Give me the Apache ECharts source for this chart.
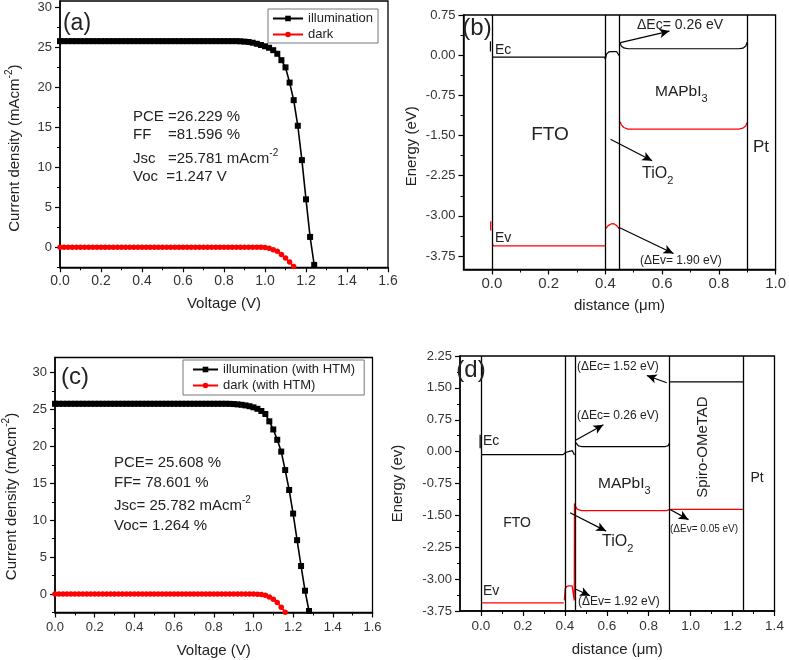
<!DOCTYPE html>
<html><head><meta charset="utf-8">
<script src="https://cdn.jsdelivr.net/npm/echarts@6/dist/echarts.min.js"></script>
<style>html,body{margin:0;padding:0;background:#fff}#c{width:789px;height:660px}</style>
</head><body><div id="c"></div>
<script>
// ---------- DATA ----------
const aVoltage = [0.00,0.02,0.04,0.06,0.08,0.10,0.12,0.14,0.16,0.18,0.20,0.22,0.24,0.26,0.28,0.30,0.32,0.34,0.36,0.38,0.40,0.42,0.44,0.46,0.48,0.50,0.52,0.54,0.56,0.58,0.60,0.62,0.64,0.66,0.68,0.70,0.72,0.74,0.76,0.78,0.80,0.82,0.84,0.86,0.88,0.90,0.92,0.94,0.96,0.98,1.00,1.02,1.04,1.06,1.08,1.10,1.12,1.14,1.16,1.18,1.20,1.22,1.24,1.26];
const aIllum = [25.78,25.78,25.78,25.78,25.78,25.78,25.78,25.78,25.78,25.78,25.78,25.78,25.78,25.78,25.78,25.78,25.78,25.78,25.78,25.78,25.78,25.78,25.78,25.78,25.78,25.78,25.78,25.78,25.78,25.78,25.78,25.78,25.78,25.78,25.78,25.78,25.78,25.78,25.78,25.78,25.78,25.78,25.78,25.78,25.76,25.72,25.67,25.58,25.45,25.30,25.14,24.95,24.65,24.20,23.40,22.50,20.60,18.40,15.20,10.90,6.00,1.30,-2.20,-6.50];
const aDark = [0,0,0,0,0,0,0,0,0,0,0,0,0,0,0,0,0,0,0,0,0,0,0,0,0,0,0,0,0,0,0,0,0,0,0,0,0,0,0,0,0,0,0,0,0,0,0,0,0,0,-0.03,-0.12,-0.30,-0.50,-0.90,-1.35,-1.85,-2.40,-3.10];

const cVoltage = [0.00,0.02,0.04,0.06,0.08,0.10,0.12,0.14,0.16,0.18,0.20,0.22,0.24,0.26,0.28,0.30,0.32,0.34,0.36,0.38,0.40,0.42,0.44,0.46,0.48,0.50,0.52,0.54,0.56,0.58,0.60,0.62,0.64,0.66,0.68,0.70,0.72,0.74,0.76,0.78,0.80,0.82,0.84,0.86,0.88,0.90,0.92,0.94,0.96,0.98,1.00,1.02,1.04,1.06,1.08,1.10,1.12,1.14,1.16,1.18,1.20,1.22,1.24,1.26,1.28,1.30];
const cIllum = [25.78,25.78,25.78,25.78,25.78,25.78,25.78,25.78,25.78,25.78,25.78,25.78,25.78,25.78,25.78,25.78,25.78,25.78,25.78,25.78,25.78,25.78,25.78,25.78,25.78,25.78,25.78,25.78,25.78,25.78,25.78,25.78,25.78,25.78,25.78,25.78,25.78,25.78,25.78,25.78,25.78,25.78,25.78,25.78,25.77,25.74,25.70,25.64,25.56,25.45,25.30,25.10,24.80,24.40,23.40,22.30,20.90,19.30,16.80,14.10,10.90,7.30,3.80,0.45,-2.30,-6.00];
const cDark = [0,0,0,0,0,0,0,0,0,0,0,0,0,0,0,0,0,0,0,0,0,0,0,0,0,0,0,0,0,0,0,0,0,0,0,0,0,0,0,0,0,0,0,0,0,0,0,0,0,0,-0.01,-0.02,-0.05,-0.15,-0.40,-0.70,-1.15,-1.80,-2.45,-3.30];

// band diagram (b): [distance, energy] segments
const bEcSegs = [
  [[-0.005,0.26],[-0.005,0.07]],
  [[0.002,-0.035],[0.398,-0.035],[0.400,-0.08],[0.404,0.02],[0.412,0.06],[0.420,0.065],[0.440,0.065],[0.446,0.04],[0.449,-0.01]],
  [[0.452,0.24],[0.456,0.17],[0.465,0.135],[0.480,0.12],[0.870,0.12],[0.885,0.13],[0.895,0.17],[0.899,0.24]]
];
const bEvSegs = [
  [[-0.004,-3.10],[-0.004,-3.27]],
  [[0.002,-3.52],[0.005,-3.56],[0.400,-3.56]],
  [[0.400,-3.24],[0.410,-3.18],[0.420,-3.15],[0.430,-3.145],[0.440,-3.18],[0.449,-3.24]],
  [[0.452,-1.24],[0.456,-1.30],[0.465,-1.35],[0.480,-1.38],[0.870,-1.38],[0.885,-1.36],[0.895,-1.32],[0.899,-1.26]]
];
const bLayers = [0, 0.4, 0.45, 0.9];
const bArrows = [
  [[0.453,0.235],[0.626,0.45]],
  [[0.418,-1.57],[0.565,-1.97]],
  [[0.447,-3.21],[0.640,-3.70]]
];

// band diagram (d)
const dEcSegs = [
  [[-0.004,0.40],[-0.004,0.08]],
  [[0.003,-0.07],[0.392,-0.07],[0.396,-0.11],[0.403,-0.02],[0.412,0.025],[0.435,0.025],[0.442,0.0],[0.446,-0.08]],
  [[0.452,0.21],[0.456,0.17],[0.465,0.135],[0.480,0.12],[0.880,0.12],[0.893,0.14],[0.899,0.20]],
  [[0.902,1.64],[1.250,1.64]]
];
const dEvSegs = [
  [[0.003,-3.56],[0.395,-3.56]],
  [[0.398,-3.50],[0.402,-3.22],[0.410,-3.17],[0.420,-3.16],[0.435,-3.16],[0.442,-3.20],[0.445,-3.50],[0.446,-1.22],[0.452,-1.30],[0.460,-1.36],[0.480,-1.39],[0.885,-1.39],[0.895,-1.37],[0.900,-1.33],[0.905,-1.36],[1.250,-1.36]]
];
const dLayers = [0, 0.395, 0.45, 0.9, 1.25];
const dArrows = [
  [[0.886,1.62],[0.791,1.79]],
  [[0.449,0.26],[0.584,0.63]],
  [[0.902,-1.36],[0.990,-1.60]],
  [[0.425,-1.44],[0.597,-1.87]],
  [[0.453,-3.24],[0.520,-3.39]]
];

// tick values
const jvMajor = [0,5,10,15,20,25,30];
const jvMinor = [-2.5,2.5,7.5,12.5,17.5,22.5,27.5];
const bXMajor = [0,0.2,0.4,0.6,0.8,1.0];
const bXMinor = [0.1,0.3,0.5,0.7,0.9];
const bYMajor = [0.75,0,-0.75,-1.5,-2.25,-3,-3.75];
const bYMinor = [0.375,-0.375,-1.125,-1.875,-2.625,-3.375];
const dXMajor = [0,0.2,0.4,0.6,0.8,1.0,1.2,1.4];
const dXMinor = [0.1,0.3,0.5,0.7,0.9,1.1,1.3];

// ---------- CHART ----------
const FONT = '"Liberation Sans", Arial, sans-serif';
const chart = echarts.init(document.getElementById('c'), null, {renderer:'canvas'});
const zip = (xs, ys) => ys.map((y, i) => [xs[i], y]);

const AL = {onZero:false, lineStyle:{color:'#000', width:1.5}};
const TK = {length:5, lineStyle:{color:'#000', width:1.2}};
const mTK = (vals) => ({show:true, length:3, customValues:vals, lineStyle:{color:'#000', width:1}});

function mainAxis(o) {
  return Object.assign({
    type:'value', splitLine:{show:false}, axisLine:AL,
    nameLocation:'middle',
    nameTextStyle:{fontSize:15, color:'#222', fontFamily:FONT},
  }, o);
}
function minorAxis(o) {
  return Object.assign({
    type:'value', splitLine:{show:false}, axisLine:{show:false, onZero:false},
    axisLabel:{show:false},
  }, o);
}
const lbl = (size, dec, extra) => Object.assign({fontSize:size, color:'#333', fontFamily:FONT, formatter: v => Number(v).toFixed(dec), showMinLabel:true, showMaxLabel:true}, extra||{});

const xAxis = [
  // 0: (a)
  mainAxis({gridIndex:0, min:0, max:1.6, interval:0.2, axisTick:TK,
    minorTick:{show:true, splitNumber:2, length:3, lineStyle:{color:'#000'}},
    axisLabel:lbl(14,1,{margin:7}), name:'Voltage (V)', nameGap:29}),
  // 1: (b) main
  mainAxis({gridIndex:1, min:-0.1, max:1.0, axisTick:Object.assign({customValues:bXMajor}, TK),
    axisLabel:lbl(15,1,{margin:7, customValues:bXMajor}), name:'distance (\u03bcm)', nameGap:29}),
  // 2: (b) minor
  minorAxis({gridIndex:1, position:'bottom', min:-0.1, max:1.0, axisTick:mTK(bXMinor)}),
  // 3: (c)
  mainAxis({gridIndex:2, min:0, max:1.6, interval:0.2, axisTick:TK,
    minorTick:{show:true, splitNumber:2, length:3, lineStyle:{color:'#000'}},
    axisLabel:lbl(13,1,{margin:8}), name:'Voltage (V)', nameGap:31}),
  // 4: (d) main
  mainAxis({gridIndex:3, min:-0.1, max:1.4, axisTick:Object.assign({customValues:dXMajor}, TK),
    axisLabel:lbl(13.5,1,{margin:8, customValues:dXMajor}), name:'distance (\u03bcm)', nameGap:31}),
  // 5: (d) minor
  minorAxis({gridIndex:3, position:'bottom', min:-0.1, max:1.4, axisTick:mTK(dXMinor)})
];

const supRich = {sup:{fontSize:10, verticalAlign:'top', lineHeight:10, fontFamily:FONT, color:'#222'}};
const yAxis = [
  // 0: (a) main
  mainAxis({gridIndex:0, min:-2.5, max:30.8, axisTick:Object.assign({customValues:jvMajor}, TK),
    axisLabel:lbl(13,0,{margin:8, customValues:jvMajor}),
    name:'Current density (mAcm{sup|-2})', nameGap:34,
    nameTextStyle:{fontSize:15, color:'#222', fontFamily:FONT, lineHeight:22, padding:[0,28,0,0], rich:supRich}}),
  // 1: (a) minor
  minorAxis({gridIndex:0, position:'left', min:-2.5, max:30.8, axisTick:mTK(jvMinor)}),
  // 2: (b) main
  mainAxis({gridIndex:1, min:-4, max:0.75, axisTick:Object.assign({customValues:bYMajor}, TK),
    axisLabel:lbl(13,2,{margin:8, customValues:bYMajor}),
    name:'Energy (eV)', nameGap:44,
    nameTextStyle:{fontSize:15, color:'#222', fontFamily:FONT, padding:[0,8,0,0]}}),
  // 3: (b) minor
  minorAxis({gridIndex:1, position:'left', min:-4, max:0.75, axisTick:mTK(bYMinor)}),
  // 4: (c) main
  mainAxis({gridIndex:2, min:-2.5, max:32.05, axisTick:Object.assign({customValues:jvMajor}, TK),
    axisLabel:lbl(13,0,{margin:8, customValues:jvMajor}),
    name:'Current density (mAcm{sup|-2})', nameGap:32,
    nameTextStyle:{fontSize:15, color:'#222', fontFamily:FONT, lineHeight:22, padding:[0,23,0,0], rich:supRich}}),
  // 5: (c) minor
  minorAxis({gridIndex:2, position:'left', min:-2.5, max:32.05, axisTick:mTK(jvMinor)}),
  // 6: (d)
  mainAxis({gridIndex:3, min:-3.75, max:2.25, interval:0.75, axisTick:TK,
    minorTick:{show:true, splitNumber:2, length:3, lineStyle:{color:'#000'}},
    axisLabel:lbl(13,2,{margin:8}), name:'Energy (ev)', nameGap:55})
];

const gridBox = {show:true, borderColor:'#000', borderWidth:1.3, containLabel:false};
const grid = [
  Object.assign({left:60, top:1, width:328, height:266.3}, gridBox),
  Object.assign({left:463.5, top:15, width:314, height:254.5}, gridBox),
  Object.assign({left:55, top:357.5, width:317.5, height:255}, gridBox),
  Object.assign({left:460, top:356, width:314.5, height:255}, gridBox)
];

const series = [];
function jv(name, xi, yi, xs, ys, sym, size, color) {
  series.push({name, type:'line', xAxisIndex:xi, yAxisIndex:yi, data:zip(xs, ys),
    symbol:sym, symbolSize:size, showSymbol:true, clip:true,
    itemStyle:{color}, lineStyle:{color, width:1.6}, z:3});
}
jv('illumination', 0, 0, aVoltage, aIllum, 'rect', 6, '#000');
jv('dark', 0, 0, aVoltage, aDark, 'circle', 5.5, '#ff0000');
jv('illumination (with HTM)', 3, 4, cVoltage, cIllum, 'rect', 6, '#000');
jv('dark (with HTM)', 3, 4, cVoltage, cDark, 'circle', 5.5, '#ff0000');

function layerLines(vals) {
  return {silent:true, symbol:'none', label:{show:false}, animation:false,
    lineStyle:{color:'#000', width:1.3, type:'solid'},
    data: vals.map(v => ({xAxis:v}))};
}
function arrowLines(list) {
  return {silent:true, symbol:['none','arrow'], symbolSize:[7,10], label:{show:false}, animation:false,
    lineStyle:{color:'#000', width:1.2, type:'solid'},
    data: list.map(p => [{coord:p[0]}, {coord:p[1]}])};
}
function band(segs, xi, yi, color, w, extras) {
  segs.forEach((seg, i) => {
    const s = {type:'line', xAxisIndex:xi, yAxisIndex:yi, data:seg, symbol:'none', silent:true,
      lineStyle:{color, width:w}, z:4};
    if (extras && extras[i]) s.markLine = extras[i];
    series.push(s);
  });
}
band(bEcSegs, 1, 2, '#000', 1.2, [layerLines(bLayers), arrowLines(bArrows)]);
band(bEvSegs, 1, 2, '#ff0000', 1.3);
band(dEcSegs, 4, 6, '#000', 1.2, [layerLines(dLayers), arrowLines(dArrows)]);
band(dEvSegs, 4, 6, '#ff0000', 1.3);

const legendBase = {orient:'vertical', itemWidth:30, itemHeight:7, itemGap:3,
  borderColor:'#777', borderWidth:1, backgroundColor:'#fff', borderRadius:0,
  textStyle:{fontSize:13, color:'#222', fontFamily:FONT}, selectedMode:false};
const legend = [
  Object.assign({}, legendBase, {data:['illumination','dark'], left:268, top:9, padding:[3,5,2,4]}),
  Object.assign({}, legendBase, {data:['illumination (with HTM)','dark (with HTM)'], left:183, top:360, itemWidth:25, padding:[3,9,3,9]})
];

// ---------- annotations ----------
const subRich = {s:{fontSize:11, verticalAlign:'bottom', lineHeight:11, fontFamily:FONT, fill:'#222'}};
const supR = {sup:{fontSize:10, verticalAlign:'top', lineHeight:10, fontFamily:FONT, fill:'#222'}};
function T(x, y, text, size, opt) {
  opt = opt || {};
  return {type:'text', x, y, rotation:opt.rot||0, z:50, silent:true,
    style:{text, fontSize:size, fontFamily:FONT, fill:opt.color||'#222',
      align:opt.align||'left', verticalAlign:'middle', lineHeight:opt.lh||undefined,
      rich:opt.rich||undefined}};
}
const graphic = [
  T(77, 24, '(a)', 23, {align:'center'}),
  T(133, 117, 'PCE =26.229 %', 15),
  T(133, 135, 'FF    =81.596 %', 15),
  T(133, 159, 'Jsc   =25.781 mAcm{sup|-2}', 15, {rich:supR, lh:22}),
  T(133, 177, 'Voc  =1.247 V', 15),

  T(75, 377, '(c)', 24, {align:'center'}),
  T(114, 463, 'PCE= 25.608 %', 15),
  T(114, 483, 'FF= 78.601 %', 15),
  T(114, 506, 'Jsc= 25.782 mAcm{sup|-2}', 15, {rich:supR, lh:22}),
  T(114, 526, 'Voc= 1.264 %', 15),

  T(477, 28, '(b)', 24, {align:'center'}),
  T(495, 50, 'Ec', 14),
  T(495, 238, 'Ev', 14),
  T(550, 135, 'FTO', 19, {align:'center'}),
  T(655, 92, 'MAPbI{s|3}', 15.5, {rich:subRich, lh:24}),
  T(761, 147, 'Pt', 17, {align:'center'}),
  T(642, 174, 'TiO{s|2}', 16, {rich:subRich, lh:24}),
  T(637, 25, '\u0394Ec= 0.26 eV', 14),
  T(640, 261, '(\u0394Ev= 1.90 eV)', 12),

  T(471, 370, '(d)', 24, {align:'center'}),
  T(483, 441, 'Ec', 14),
  T(483, 591, 'Ev', 14),
  T(517, 523, 'FTO', 14, {align:'center'}),
  T(598, 484, 'MAPbI{s|3}', 15.5, {rich:subRich, lh:24}),
  T(602, 542, 'TiO{s|2}', 16, {rich:subRich, lh:24}),
  T(703, 447, 'Spiro-OMeTAD', 15, {align:'center', rot:Math.PI/2}),
  T(757, 478, 'Pt', 14, {align:'center'}),
  T(577, 367, '(\u0394Ec= 1.52 eV)', 12),
  T(577, 416, '(\u0394Ec= 0.26 eV)', 12),
  T(670, 529, '(\u0394Ev= 0.05 eV)', 10),
  T(578, 602, '(\u0394Ev= 1.92 eV)', 12)
];

chart.setOption({
  animation:false,
  backgroundColor:'#fff',
  textStyle:{fontFamily:FONT},
  grid, xAxis, yAxis, series, legend, graphic
});
</script></body></html>
